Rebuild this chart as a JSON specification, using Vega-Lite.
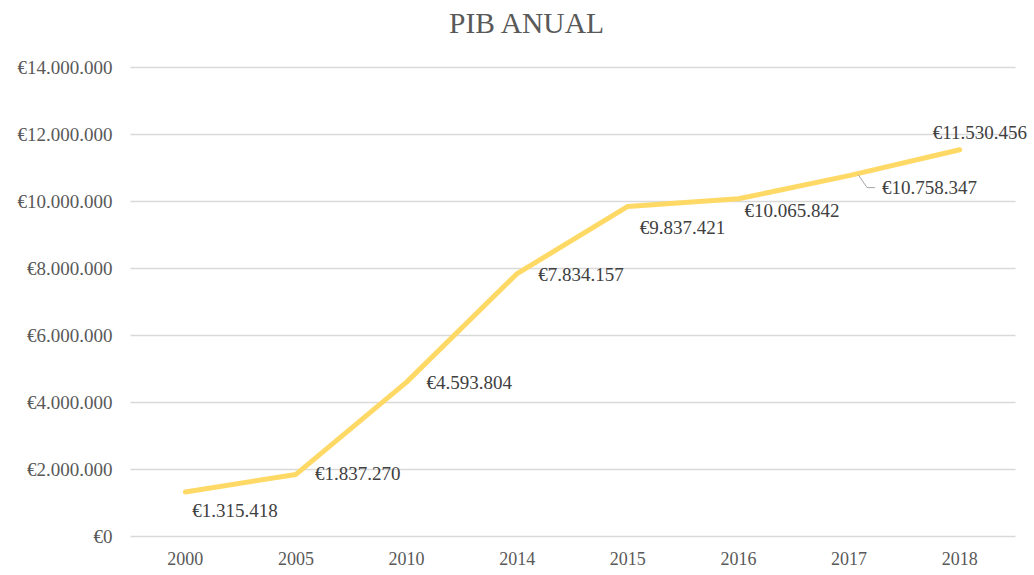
{
  "$schema": "https://vega.github.io/schema/vega-lite/v6.json",
  "autosize": {"type": "none"},
  "width": 885,
  "height": 469,
  "padding": {"left": 130, "top": 67, "right": 19, "bottom": 39},
  "background": "white",
  "config": {
    "locale": {"number": {"decimal": ",", "thousands": ".", "grouping": [3], "currency": ["€", ""]}},
    "view": {"stroke": null},
    "font": "Liberation Serif",
    "text": {"font": "Liberation Serif"}
  },
  "title": {
    "text": "PIB ANUAL",
    "font": "Liberation Serif",
    "fontSize": 29.5,
    "fontWeight": "normal",
    "color": "#595959",
    "anchor": "middle",
    "offset": 19,
    "dx": -46
  },
  "data": {
    "values": [
      {"year": "2000", "pib": 1315418},
      {"year": "2005", "pib": 1837270},
      {"year": "2010", "pib": 4593804},
      {"year": "2014", "pib": 7834157},
      {"year": "2015", "pib": 9837421},
      {"year": "2016", "pib": 10065842},
      {"year": "2017", "pib": 10758347},
      {"year": "2018", "pib": 11530456}
    ]
  },
  "encoding": {
    "x": {
      "field": "year", "type": "ordinal", "sort": null,
      "scale": {"paddingInner": 0, "paddingOuter": 0},
      "axis": {
        "title": null, "labelAngle": 0, "ticks": false, "domain": false,
        "labelFont": "Liberation Serif", "labelFontSize": 18, "labelColor": "#595959",
        "labelPadding": 14, "grid": false
      }
    },
    "y": {
      "field": "pib", "type": "quantitative",
      "scale": {"domain": [0, 14000000], "nice": false},
      "axis": {
        "title": null, "values": [0, 2000000, 4000000, 6000000, 8000000, 10000000, 12000000, 14000000],
        "format": "$,.0f", "ticks": false, "domain": false,
        "labelFont": "Liberation Serif", "labelFontSize": 19, "labelColor": "#595959",
        "labelPadding": 18, "gridColor": "#d9d9d9", "gridWidth": 1.3
      }
    }
  },
  "layer": [
    {"mark": {"type": "line", "color": "#FFD966", "strokeWidth": 5, "strokeCap": "round", "strokeJoin": "round"}},
    {"mark": {"type": "rule", "color": "#a6a6a6", "strokeWidth": 1, "xOffset": 9, "yOffset": -1, "x2Offset": 18, "y2Offset": 12},
     "transform": [{"filter": "datum.year == '2017'"}],
     "encoding": {"x2": {"field": "year"}, "y2": {"field": "pib"}}},
    {"mark": {"type": "rule", "color": "#a6a6a6", "strokeWidth": 1, "xOffset": 18, "yOffset": 12, "x2Offset": 26, "y2Offset": 12},
     "transform": [{"filter": "datum.year == '2017'"}],
     "encoding": {"x2": {"field": "year"}, "y2": {"field": "pib"}}},
    {"transform": [{"filter": "datum.year == '2000'"}],
     "mark": {"type": "text", "font": "Liberation Serif", "align": "left", "baseline": "middle", "dx": 7, "dy": 19, "fontSize": 19, "color": "#404040"},
     "encoding": {"text": {"field": "pib", "type": "quantitative", "format": "$,.0f"}}},
    {"transform": [{"filter": "datum.year == '2005'"}],
     "mark": {"type": "text", "font": "Liberation Serif", "align": "left", "baseline": "middle", "dx": 19, "dy": 0, "fontSize": 19, "color": "#404040"},
     "encoding": {"text": {"field": "pib", "type": "quantitative", "format": "$,.0f"}}},
    {"transform": [{"filter": "datum.year == '2010'"}],
     "mark": {"type": "text", "font": "Liberation Serif", "align": "left", "baseline": "middle", "dx": 20, "dy": 1, "fontSize": 19, "color": "#404040"},
     "encoding": {"text": {"field": "pib", "type": "quantitative", "format": "$,.0f"}}},
    {"transform": [{"filter": "datum.year == '2014'"}],
     "mark": {"type": "text", "font": "Liberation Serif", "align": "left", "baseline": "middle", "dx": 21, "dy": 1, "fontSize": 19, "color": "#404040"},
     "encoding": {"text": {"field": "pib", "type": "quantitative", "format": "$,.0f"}}},
    {"transform": [{"filter": "datum.year == '2015'"}],
     "mark": {"type": "text", "font": "Liberation Serif", "align": "left", "baseline": "middle", "dx": 12, "dy": 22, "fontSize": 19, "color": "#404040"},
     "encoding": {"text": {"field": "pib", "type": "quantitative", "format": "$,.0f"}}},
    {"transform": [{"filter": "datum.year == '2016'"}],
     "mark": {"type": "text", "font": "Liberation Serif", "align": "left", "baseline": "middle", "dx": 6, "dy": 12, "fontSize": 19, "color": "#404040"},
     "encoding": {"text": {"field": "pib", "type": "quantitative", "format": "$,.0f"}}},
    {"transform": [{"filter": "datum.year == '2017'"}],
     "mark": {"type": "text", "font": "Liberation Serif", "align": "left", "baseline": "middle", "dx": 33, "dy": 12, "fontSize": 19, "color": "#404040"},
     "encoding": {"text": {"field": "pib", "type": "quantitative", "format": "$,.0f"}}},
    {"transform": [{"filter": "datum.year == '2018'"}],
     "mark": {"type": "text", "font": "Liberation Serif", "align": "left", "baseline": "middle", "dx": -27, "dy": -17, "fontSize": 19, "color": "#404040"},
     "encoding": {"text": {"field": "pib", "type": "quantitative", "format": "$,.0f"}}}
  ]
}
